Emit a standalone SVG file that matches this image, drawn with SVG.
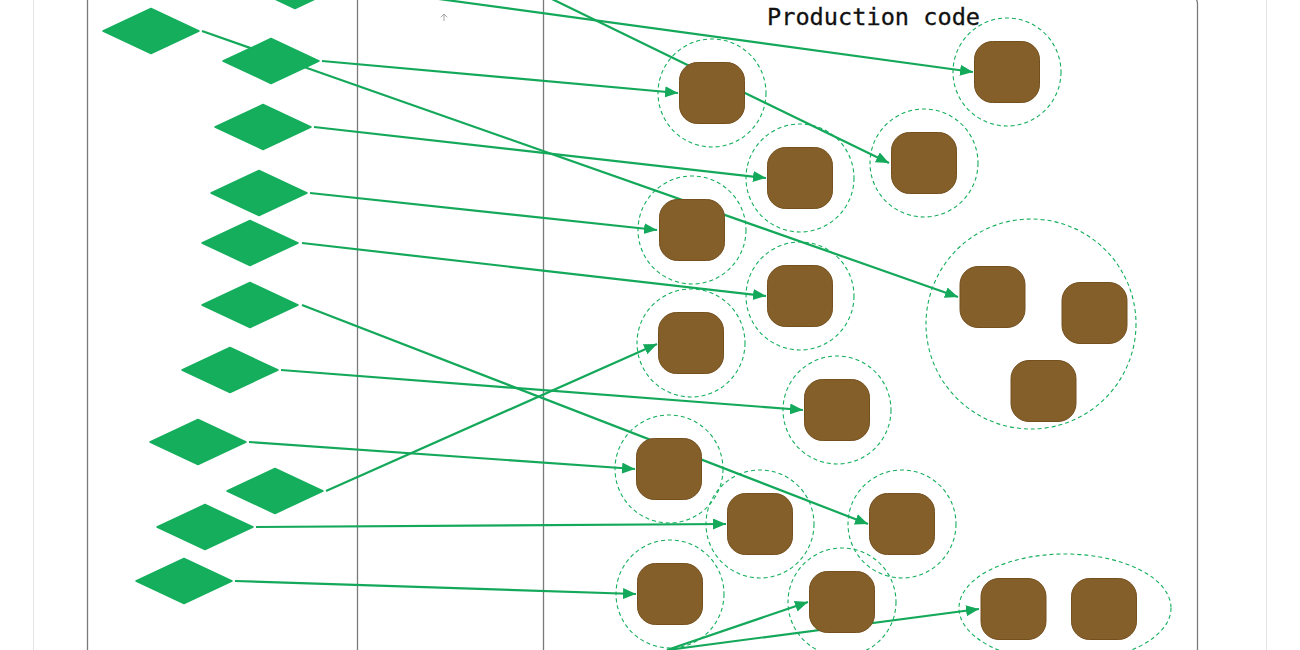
<svg xmlns="http://www.w3.org/2000/svg" width="1300" height="650" viewBox="0 0 1300 650">
<style>
.frame{stroke:#7a7a7a;stroke-width:1.3;fill:none}
.outer{stroke:#e4e4e4;stroke-width:1;fill:none}
.dia{fill:#14AE5C;stroke:#14AE5C;stroke-width:1.5;stroke-linejoin:round}
.con{stroke:#14A85A;stroke-width:2.2;fill:none;marker-end:url(#ah)}
.ring{fill:none;stroke:#14AE5C;stroke-width:1.1;stroke-dasharray:4 3}
.box{fill:#855F2A;stroke:#74501f;stroke-width:1}
.title{font-family:"DejaVu Sans Mono","Liberation Mono",monospace;font-size:23.6px;fill:#111;stroke:#111;stroke-width:0.3}
</style>
<defs>
<marker id="ah" markerUnits="userSpaceOnUse" markerWidth="14" markerHeight="12" refX="13" refY="5.5" orient="auto">
<path d="M0,0 L13,5.5 L0,11 z" fill="#14A85A"/>
</marker>
<rect id="n" x="-32.5" y="-30.5" width="65" height="61" rx="18" ry="18"/>
<polygon id="d" points="-48,0 0,-22.5 48,0 0,22.5"/>
</defs>
<rect width="1300" height="650" fill="#ffffff"/>
<g id="frame">
<line class="outer" x1="33.5" y1="0" x2="33.5" y2="650"/>
<line class="outer" x1="1266.5" y1="0" x2="1266.5" y2="650"/>
<path class="frame" d="M87.5,650 V0 M357.5,0 V650 M543.5,0 V650 M1197.5,650 V4 Q1197.5,0 1195,-2"/>
<path d="M444,14 V21 M440.8,17.3 L444,14 L447.2,17.3" stroke="#9a9a9a" stroke-width="0.9" fill="none"/>
</g>
<text class="title" x="767" y="24.5">Production code</text>
<g id="connectors">
<line class="con" x1="344" y1="-14" x2="973" y2="72"/>
<line class="con" x1="480" y1="-36" x2="889" y2="163"/>
<line class="con" x1="202" y1="31" x2="958" y2="297"/>
<line class="con" x1="322" y1="61" x2="678" y2="93"/>
<line class="con" x1="314" y1="127" x2="766" y2="178"/>
<line class="con" x1="310" y1="193" x2="657" y2="230"/>
<line class="con" x1="302" y1="243" x2="766" y2="296"/>
<line class="con" x1="302" y1="305" x2="868" y2="524"/>
<line class="con" x1="281" y1="370" x2="803" y2="410"/>
<line class="con" x1="249" y1="442" x2="635" y2="469"/>
<line class="con" x1="326" y1="491" x2="657" y2="344"/>
<line class="con" x1="256" y1="527" x2="726" y2="524"/>
<line class="con" x1="235" y1="581" x2="636" y2="594"/>
<line class="con" x1="667" y1="650" x2="808" y2="602"/>
<line class="con" x1="667" y1="650" x2="979" y2="609"/>
</g>
<g id="tests">
<g id="d0"><use href="#d" class="dia" x="295" y="-14"/></g>
<g id="d1"><use href="#d" class="dia" x="151" y="31"/></g>
<g id="d2"><use href="#d" class="dia" x="271" y="61"/></g>
<g id="d3"><use href="#d" class="dia" x="263" y="127"/></g>
<g id="d4"><use href="#d" class="dia" x="259" y="193"/></g>
<g id="d5"><use href="#d" class="dia" x="250" y="243"/></g>
<g id="d6"><use href="#d" class="dia" x="250" y="305"/></g>
<g id="d7"><use href="#d" class="dia" x="230" y="370"/></g>
<g id="d8"><use href="#d" class="dia" x="198" y="442"/></g>
<g id="d9"><use href="#d" class="dia" x="275" y="491"/></g>
<g id="d10"><use href="#d" class="dia" x="205" y="527"/></g>
<g id="d11"><use href="#d" class="dia" x="184" y="581"/></g>
</g>
<g id="units">
<g id="u1"><circle class="ring" cx="712" cy="93" r="54"/><use href="#n" class="box" x="712" y="93"/></g>
<g id="u2"><circle class="ring" cx="1007" cy="72" r="54"/><use href="#n" class="box" x="1007" y="72"/></g>
<g id="u3"><circle class="ring" cx="800" cy="178" r="54"/><use href="#n" class="box" x="800" y="178"/></g>
<g id="u4"><circle class="ring" cx="924" cy="163" r="54"/><use href="#n" class="box" x="924" y="163"/></g>
<g id="u5"><circle class="ring" cx="692" cy="230" r="54"/><use href="#n" class="box" x="692" y="230"/></g>
<g id="u6"><circle class="ring" cx="800" cy="296" r="54"/><use href="#n" class="box" x="800" y="296"/></g>
<g id="u7"><circle class="ring" cx="691" cy="343" r="54"/><use href="#n" class="box" x="691" y="343"/></g>
<g id="u8"><circle class="ring" cx="837" cy="410" r="54"/><use href="#n" class="box" x="837" y="410"/></g>
<g id="u9"><circle class="ring" cx="669" cy="469" r="54"/><use href="#n" class="box" x="669" y="469"/></g>
<g id="u10"><circle class="ring" cx="760" cy="524" r="54"/><use href="#n" class="box" x="760" y="524"/></g>
<g id="u11"><circle class="ring" cx="902" cy="524" r="54"/><use href="#n" class="box" x="902" y="524"/></g>
<g id="u12"><circle class="ring" cx="670" cy="594" r="54"/><use href="#n" class="box" x="670" y="594"/></g>
<g id="u13"><circle class="ring" cx="842" cy="602" r="54"/><use href="#n" class="box" x="842" y="602"/></g>
<g id="g1"><circle class="ring" cx="1031" cy="324" r="105"/><use href="#n" class="box" x="992.5" y="297"/><use href="#n" class="box" x="1094.5" y="313"/><use href="#n" class="box" x="1043.5" y="391"/></g>
<g id="g2"><ellipse class="ring" cx="1065" cy="608" rx="106" ry="54"/><use href="#n" class="box" x="1013.5" y="609"/><use href="#n" class="box" x="1104" y="609"/></g>
</g>
</svg>
